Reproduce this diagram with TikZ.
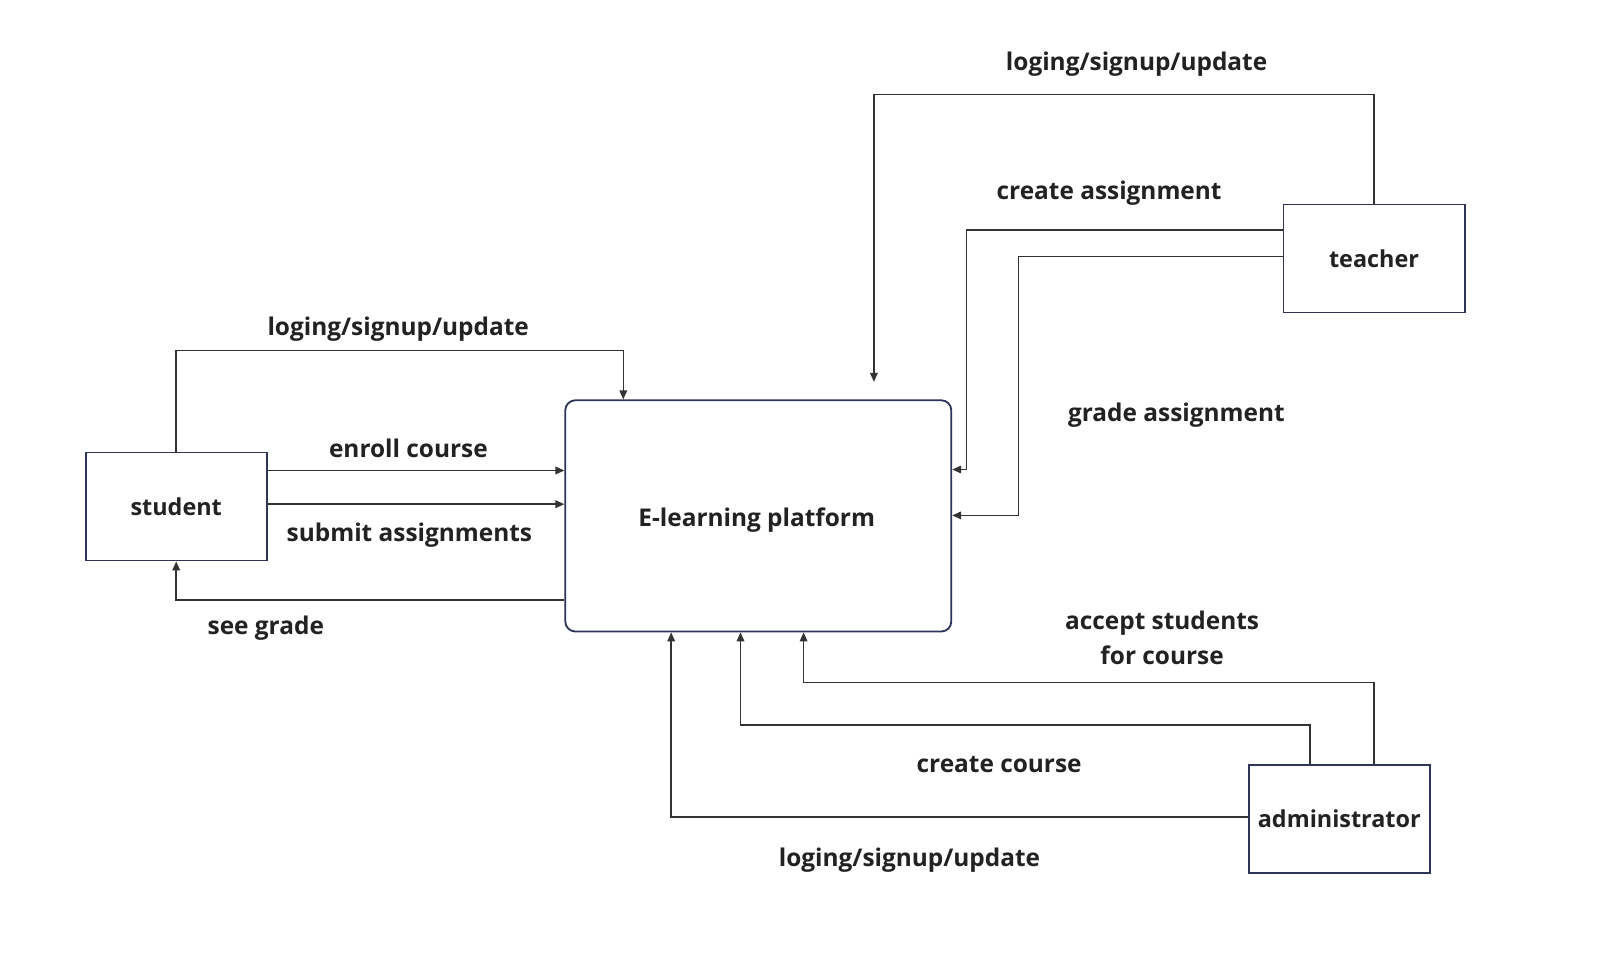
\documentclass[tikz,border=0pt]{standalone}
\usepackage{fontspec}
\setmainfont{Open Sans}
\usetikzlibrary{arrows.meta}
\definecolor{boxc}{HTML}{2E3559}
\definecolor{linec}{HTML}{333333}
\definecolor{txtc}{HTML}{222222}
\begin{document}
\begin{tikzpicture}[x=0.5pt,y=-0.5pt,
 box/.style={draw=boxc, line width=0.9pt, fill=white, minimum width=90.6pt, minimum height=54pt, inner sep=0pt, text=txtc, font=\bfseries\fontsize{11.7}{14}\selectfont},
 flow/.style={draw=linec, line width=0.8pt, -{Triangle[length=4.5pt,width=3.8pt]}},
 lbl/.style={font=\bfseries\fontsize{12.2}{17.5}\selectfont, text=txtc, inner sep=0pt, align=center}]
\useasboundingbox (0,0) rectangle (1597,967);
\fill[white] (0,0) rectangle (1597,967);

\node[box] (student) at (176.2,506.5) {student};
\node[box, minimum width=193pt, minimum height=115.6pt, rounded corners=5pt] (platform) at (758.3,515.9) {};
\node[lbl] (ptext) at (756.7,520) {E-learning platform};
\node[box] (teacher) at (1374,258.5) {teacher};
\node[box] (admin) at (1339.3,819) {administrator};

% student side
\coordinate (sl) at (623.3,350.4);
\draw[flow] (student.north) |- (sl) -- (sl |- platform.north);
\coordinate (ey) at (0,470.5);
\draw[flow] (student.east |- ey) -- (platform.west |- ey);
\coordinate (sy) at (0,504.2);
\draw[flow] (student.east |- sy) -- (platform.west |- sy);
\coordinate (sg) at (0,599.9);
\draw[flow] (platform.west |- sg) -| (student.south);

% teacher side
\coordinate (tl) at (873.9,94.7);
\coordinate (tle) at (873.9,381.9);
\draw[flow] (teacher.north) |- (tl) -- (tle);
\coordinate (ca) at (966.6,230.2);
\coordinate (cay) at (0,469.5);
\draw[flow] (teacher.west |- ca) -- (ca) |- (platform.east |- cay);
\coordinate (gx) at (1018.5,0);
\coordinate (gy) at (0,256.7);
\coordinate (gy2) at (0,515.4);
\draw[flow] (teacher.west |- gy) -| (gx |- gy2) -- (platform.east |- gy2);

% admin side
\coordinate (ac) at (1374,682.4);
\coordinate (acx) at (803.6,0);
\draw[flow] (ac |- admin.north) -- (ac) -| (acx |- platform.south);
\coordinate (cc) at (1309.8,725.2);
\coordinate (ccx) at (740.5,0);
\draw[flow] (cc |- admin.north) -- (cc) -| (ccx |- platform.south);
\coordinate (alx) at (671.2,0);
\coordinate (aly) at (0,816.8);
\draw[flow] (admin.west |- aly) -| (alx |- platform.south);

% labels
\node[lbl] (l1) at (398.2,329) {loging/signup/update};
\node[lbl] (l2) at (408.4,448) {enroll course};
\node[lbl] (l3) at (409.4,535) {submit assignments};
\node[lbl] (l4) at (265.8,628.5) {see grade};
\node[lbl] (l5) at (1136.6,64) {loging/signup/update};
\node[lbl] (l6) at (1109.1,193.5) {create assignment};
\node[lbl] (l7) at (1176.4,415.5) {grade assignment};
\node[lbl] (l8) at (1162.1,638) {accept students\\for course};
\node[lbl] (l9) at (999.1,765) {create course};
\node[lbl] (l10) at (909.5,860.5) {loging/signup/update};
\end{tikzpicture}
\end{document}
